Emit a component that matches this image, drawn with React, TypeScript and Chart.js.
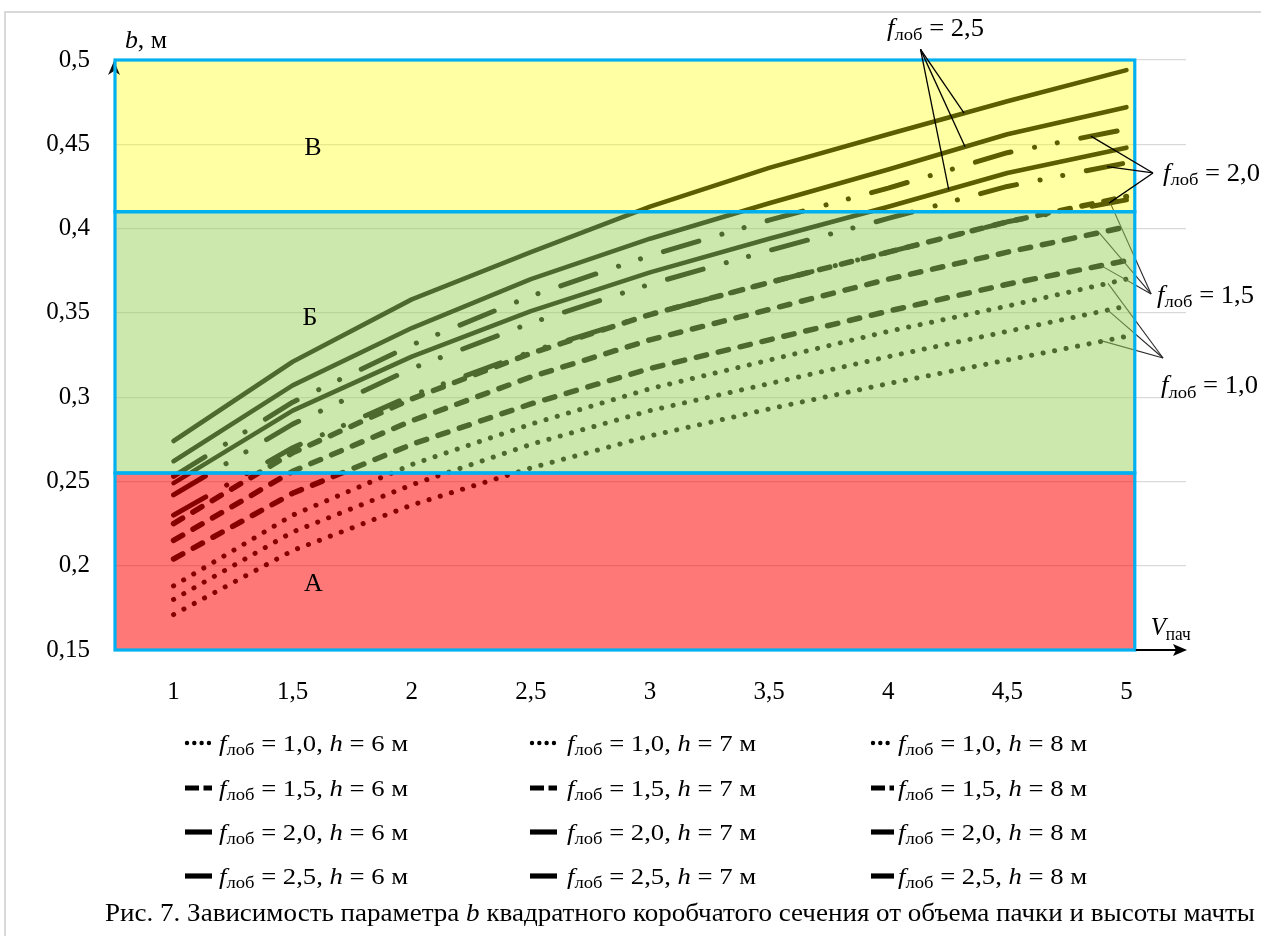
import React, { useEffect, useRef } from 'react';
import { Chart, registerables } from 'chart.js';

Chart.register(...registerables);

// ---------- DATA ----------
const categories = ['1', '1,5', '2', '2,5', '3', '3,5', '4', '4,5', '5'];

// f_лоб = 1,0
const f10h6 = [0.171, 0.209, 0.236, 0.258, 0.277, 0.293, 0.308, 0.322, 0.336];
const f10h7 = [0.180, 0.220, 0.248, 0.272, 0.292, 0.308, 0.324, 0.339, 0.354];
const f10h8 = [0.188, 0.230, 0.260, 0.284, 0.305, 0.322, 0.339, 0.354, 0.370];
// f_лоб = 1,5
const f15h6 = [0.204, 0.243, 0.272, 0.296, 0.317, 0.334, 0.351, 0.367, 0.381];
const f15h7 = [0.215, 0.256, 0.286, 0.312, 0.334, 0.352, 0.370, 0.386, 0.401];
const f15h8 = [0.225, 0.267, 0.299, 0.326, 0.349, 0.368, 0.386, 0.404, 0.419];
// f_лоб = 2,0
const f20h6 = [0.230, 0.270, 0.301, 0.327, 0.349, 0.368, 0.386, 0.404, 0.417];
const f20h7 = [0.242, 0.284, 0.317, 0.344, 0.367, 0.387, 0.406, 0.425, 0.439];
const f20h8 = [0.253, 0.297, 0.331, 0.360, 0.384, 0.405, 0.424, 0.445, 0.459];
// f_лоб = 2,5
const f25h6 = [0.249, 0.292, 0.324, 0.351, 0.374, 0.394, 0.413, 0.433, 0.448];
const f25h7 = [0.262, 0.307, 0.341, 0.370, 0.394, 0.415, 0.435, 0.456, 0.472];
const f25h8 = [0.274, 0.321, 0.358, 0.386, 0.413, 0.436, 0.456, 0.4755, 0.494];

const fLabels = ['1,0', '1,5', '2,0', '2,5'];
const hLabels = ['6', '7', '8'];
const seriesByF = [
  [f10h6, f10h7, f10h8],
  [f15h6, f15h7, f15h8],
  [f20h6, f20h7, f20h8],
  [f25h6, f25h7, f25h8],
];

const yMin = 0.15;
const yMax = 0.5;
const yStep = 0.05;

// zone boundaries (b, м) and names
const zoneBounds = [0.15, 0.255, 0.41, 0.5];
const zoneNames = ['А', 'Б', 'В'];

const captionText1 = 'Рис. 7. Зависимость параметра ';
const captionText2 = ' квадратного коробчатого сечения от объема пачки и высоты мачты';

// ---------- STYLES / LAYOUT ----------
const FAM = '"Liberation Serif", "Times New Roman", serif';
const W = 1261;
const H = 936;

const lineStyles = [
  { width: 5, dash: [0.1, 11.6] },
  { width: 5.5, dash: [10.5, 12] },
  { width: 5, dash: [37, 24, 0.1, 23, 0.1, 24] },
  { width: 4.6, dash: [] as number[] },
];
const legendKinds = ['dot', 'dash', 'solid', 'solid'];

const zoneFills = ['rgba(255,0,0,0.53)', 'rgba(153,209,89,0.5)', 'rgba(255,255,0,0.36)'];
const zoneRightIdx = 8.07;
const zoneLetterPos = [
  [1.173, 0.189],
  [1.145, 0.347],
  [1.17, 0.4478],
];

// annotation pointers: label position (category idx, value), apex, targets [hIndex, idx]
const pointers = [
  { f: 3, label: [5.99, 0.519], apex: [6.271, 0.5063], targets: [[2, 6.637], [1, 6.645], [0, 6.508]], over: true },
  { f: 2, label: [8.307, 0.433], apex: [8.223, 0.433], targets: [[2, 7.701], [1, 7.837], [0, 7.854]], over: true },
  { f: 1, label: [8.257, 0.3606], apex: [8.207, 0.3612], targets: [[1, 7.77], [0, 7.787], [2, 7.854]], over: false },
  { f: 0, label: [8.29, 0.3072], apex: [8.307, 0.3232], targets: [[2, 7.845], [1, 7.843], [0, 7.801]], over: false },
];

const legendCols = [
  { sx: 185, tx: 219, len: 27 },
  { sx: 530, tx: 567, len: 27 },
  { sx: 871, tx: 898, len: 23 },
];
const legendRows = [743, 788, 832, 876];

// ---------- helpers ----------
type Run = { t: string; k?: 'i' | 's' };
const SUB = 0.7;

function fontStr(size: number, italic = false) {
  return `${italic ? 'italic ' : ''}${size}px ${FAM}`;
}

function measureRuns(ctx: CanvasRenderingContext2D, runs: Run[], size: number) {
  let w = 0;
  for (const r of runs) {
    const s = r.k === 's' ? size * SUB : size;
    ctx.font = fontStr(s, r.k === 'i');
    w += ctx.measureText(r.t).width;
  }
  return w;
}

function drawRuns(
  ctx: CanvasRenderingContext2D,
  runs: Run[],
  x: number,
  baseline: number,
  size: number,
  opts: { sx?: number; width?: number; align?: 'left' | 'center'; color?: string } = {}
) {
  const nat = measureRuns(ctx, runs, size);
  const sx = opts.width ? opts.width / nat : opts.sx ?? 1;
  const total = nat * sx;
  const x0 = opts.align === 'center' ? x - total / 2 : x;
  ctx.save();
  ctx.fillStyle = opts.color ?? '#000';
  ctx.textBaseline = 'alphabetic';
  ctx.textAlign = 'left';
  ctx.translate(x0, baseline);
  ctx.scale(sx, 1);
  let cx = 0;
  for (const r of runs) {
    const s = r.k === 's' ? size * SUB : size;
    ctx.font = fontStr(s, r.k === 'i');
    ctx.fillText(r.t, cx, r.k === 's' ? size * 0.18 : 0);
    cx += ctx.measureText(r.t).width;
  }
  ctx.restore();
}

function fRuns(f: string): Run[] {
  return [{ t: 'f', k: 'i' }, { t: 'лоб', k: 's' }, { t: ' = ' + f }];
}

function interp(arr: number[], idx: number) {
  const i = Math.min(Math.floor(idx), arr.length - 2);
  const t = idx - i;
  return arr[i] + (arr[i + 1] - arr[i]) * t;
}

function drawPointers(chart: any, over: boolean) {
  const { ctx } = chart;
  const xs = chart.scales.x;
  const ys = chart.scales.y;
  ctx.save();
  for (const p of pointers) {
    if (p.over !== over) continue;
    const ax = xs.getPixelForValue(p.apex[0]);
    const ay = ys.getPixelForValue(p.apex[1]);
    ctx.strokeStyle = over ? '#000' : '#2a2a2a';
    ctx.lineWidth = over ? 1.3 : 1.1;
    ctx.setLineDash([]);
    for (const [hi, idx] of p.targets) {
      const tx = xs.getPixelForValue(idx);
      const ty = ys.getPixelForValue(interp(seriesByF[p.f][hi], idx));
      ctx.beginPath();
      ctx.moveTo(ax, ay);
      ctx.lineTo(tx, ty);
      ctx.stroke();
    }
  }
  ctx.restore();
}

function drawSample(ctx: CanvasRenderingContext2D, kind: string, x: number, y: number, len: number) {
  ctx.save();
  ctx.strokeStyle = '#000';
  ctx.beginPath();
  if (kind === 'dot') {
    ctx.lineWidth = 4.4;
    ctx.lineCap = 'round';
    ctx.setLineDash([0.01, 7.3]);
    ctx.moveTo(x + 2, y);
    ctx.lineTo(x + len, y);
  } else if (kind === 'dash') {
    ctx.lineWidth = 5.2;
    ctx.lineCap = 'butt';
    ctx.setLineDash([14, 4.5]);
    ctx.moveTo(x, y);
    ctx.lineTo(x + len, y);
  } else {
    ctx.lineWidth = 5.2;
    ctx.lineCap = 'butt';
    ctx.setLineDash([]);
    ctx.moveTo(x, y);
    ctx.lineTo(x + len, y);
  }
  ctx.stroke();
  ctx.restore();
}

const decorPlugin = {
  id: 'decor',
  beforeDraw(chart: any) {
    const { ctx } = chart;
    ctx.save();
    ctx.fillStyle = '#fff';
    ctx.fillRect(0, 0, chart.width, chart.height);
    ctx.strokeStyle = '#D9D9D9';
    ctx.lineWidth = 2;
    ctx.beginPath();
    ctx.moveTo(5, chart.height);
    ctx.lineTo(5, 12);
    ctx.lineTo(chart.width, 12);
    ctx.stroke();
    ctx.restore();
  },
  afterDatasetsDraw(chart: any) {
    const { ctx } = chart;
    const xs = chart.scales.x;
    const ys = chart.scales.y;
    const left = xs.getPixelForValue(-0.5);
    const right = xs.getPixelForValue(zoneRightIdx);
    const yAxisPx = ys.getPixelForValue(yMin);

    // x axis line (under the zones)
    ctx.save();
    ctx.strokeStyle = '#000';
    ctx.lineWidth = 1.5;
    ctx.beginPath();
    ctx.moveTo(left, yAxisPx);
    ctx.lineTo(xs.right - 6, yAxisPx);
    ctx.stroke();
    ctx.restore();

    drawPointers(chart, false);

    // zone fills
    ctx.save();
    for (let i = 0; i < zoneNames.length; i++) {
      const yTop = ys.getPixelForValue(zoneBounds[i + 1]);
      const yBot = ys.getPixelForValue(zoneBounds[i]);
      ctx.fillStyle = zoneFills[i];
      ctx.fillRect(left, yTop, right - left, yBot - yTop);
    }
    ctx.restore();

    // y axis arrowhead
    ctx.save();
    ctx.fillStyle = '#111';
    const top = ys.getPixelForValue(yMax);
    ctx.beginPath();
    ctx.moveTo(left, top + 1);
    ctx.lineTo(left - 6, top + 15);
    ctx.lineTo(left, top + 11);
    ctx.lineTo(left + 6, top + 15);
    ctx.closePath();
    ctx.fill();
    ctx.restore();

    // zone borders
    ctx.save();
    ctx.strokeStyle = '#00B0F0';
    ctx.lineWidth = 3.2;
    for (let i = 0; i < zoneNames.length; i++) {
      const yTop = ys.getPixelForValue(zoneBounds[i + 1]);
      const yBot = ys.getPixelForValue(zoneBounds[i]);
      ctx.strokeRect(left + 1, yTop, right - left - 1, yBot - yTop);
    }
    ctx.restore();

    // zone letters
    ctx.save();
    ctx.fillStyle = '#000';
    ctx.font = fontStr(26);
    ctx.textAlign = 'center';
    ctx.textBaseline = 'middle';
    zoneNames.forEach((n, i) => {
      ctx.fillText(n, xs.getPixelForValue(zoneLetterPos[i][0]), ys.getPixelForValue(zoneLetterPos[i][1]));
    });
    ctx.restore();

    drawPointers(chart, true);

    // annotation labels
    for (const p of pointers) {
      const lx = xs.getPixelForValue(p.label[0]);
      const ly = ys.getPixelForValue(p.label[1]);
      drawRuns(ctx, fRuns(fLabels[p.f]), lx, ly + 8, 25, { width: 97 });
    }

    // x axis arrow
    ctx.save();
    ctx.strokeStyle = '#000';
    ctx.fillStyle = '#000';
    ctx.lineWidth = 2;
    ctx.beginPath();
    ctx.moveTo(right + 1, yAxisPx);
    ctx.lineTo(xs.right - 6, yAxisPx);
    ctx.stroke();
    ctx.beginPath();
    ctx.moveTo(xs.right + 1, yAxisPx);
    ctx.lineTo(xs.right - 13, yAxisPx - 6);
    ctx.lineTo(xs.right - 10, yAxisPx);
    ctx.lineTo(xs.right - 13, yAxisPx + 6);
    ctx.closePath();
    ctx.fill();
    ctx.restore();

    // axis titles
    drawRuns(ctx, [{ t: 'b', k: 'i' }, { t: ', м' }], left + 11, top - 12, 25, { width: 42 });
    drawRuns(ctx, [{ t: 'V', k: 'i' }, { t: 'пач', k: 's' }], right + 16, yAxisPx - 15, 26, { width: 40 });
  },
  afterDraw(chart: any) {
    const { ctx } = chart;
    // legend
    for (let fi = 0; fi < fLabels.length; fi++) {
      for (let hi = 0; hi < hLabels.length; hi++) {
        const col = legendCols[hi];
        const y = legendRows[fi];
        drawSample(ctx, legendKinds[fi], col.sx, y, col.len);
        const runs: Run[] = [
          { t: 'f', k: 'i' },
          { t: 'лоб', k: 's' },
          { t: ' = ' + fLabels[fi] + ', ' },
          { t: 'h', k: 'i' },
          { t: ' = ' + hLabels[hi] + ' м' },
        ];
        drawRuns(ctx, runs, col.tx, y + 8, 24, { width: 189 });
      }
    }
    // caption
    drawRuns(
      ctx,
      [{ t: captionText1 }, { t: 'b', k: 'i' }, { t: captionText2 }],
      105,
      921,
      25,
      { width: 1150 }
    );
  },
};

function buildDatasets() {
  const ds: any[] = [];
  seriesByF.forEach((group, fi) => {
    group.forEach((data, hi) => {
      const st = lineStyles[fi];
      ds.push({
        label: `f = ${fLabels[fi]}, h = ${hLabels[hi]} м`,
        data,
        borderColor: '#000',
        backgroundColor: '#000',
        borderWidth: st.width,
        borderDash: st.dash,
        borderCapStyle: 'round',
        borderJoinStyle: 'round',
        pointRadius: 0,
        pointHoverRadius: 0,
        tension: 0,
        fill: false,
      });
    });
  });
  return ds;
}

export default function App() {
  const ref = useRef<HTMLCanvasElement>(null);
  useEffect(() => {
    if (!ref.current) return;
    const chart = new Chart(ref.current, {
      type: 'line',
      data: { labels: categories, datasets: buildDatasets() },
      plugins: [decorPlugin],
      options: {
        animation: false,
        responsive: false,
        devicePixelRatio: 1,
        layout: { padding: { top: 60, right: 75, left: 0, bottom: 0 } },
        plugins: { legend: { display: false }, tooltip: { enabled: false } },
        events: [],
        scales: {
          x: {
            type: 'category',
            offset: true,
            grid: { display: false },
            border: { display: false },
            ticks: {
              color: '#000',
              font: { family: FAM, size: 25 },
              padding: 19.5,
              maxRotation: 0,
              autoSkip: false,
            },
            afterFit: (s: any) => {
              s.height = 286;
            },
          },
          y: {
            type: 'linear',
            min: yMin,
            max: yMax,
            grid: { color: '#D9D9D9', lineWidth: 1.2, drawTicks: false },
            border: { display: false },
            ticks: {
              stepSize: yStep,
              color: '#000',
              font: { family: FAM, size: 25 },
              padding: 24,
              callback: (v: any) => String(Math.round(Number(v) * 100) / 100).replace('.', ','),
            },
            afterFit: (s: any) => {
              s.width = 114;
            },
          },
        },
      } as any,
    });
    return () => chart.destroy();
  }, []);
  return (
    <div style={{ position: 'absolute', left: 0, top: 0, width: W, height: H, background: '#fff' }}>
      <canvas ref={ref} width={W} height={H} style={{ display: 'block', width: W, height: H }} />
    </div>
  );
}
